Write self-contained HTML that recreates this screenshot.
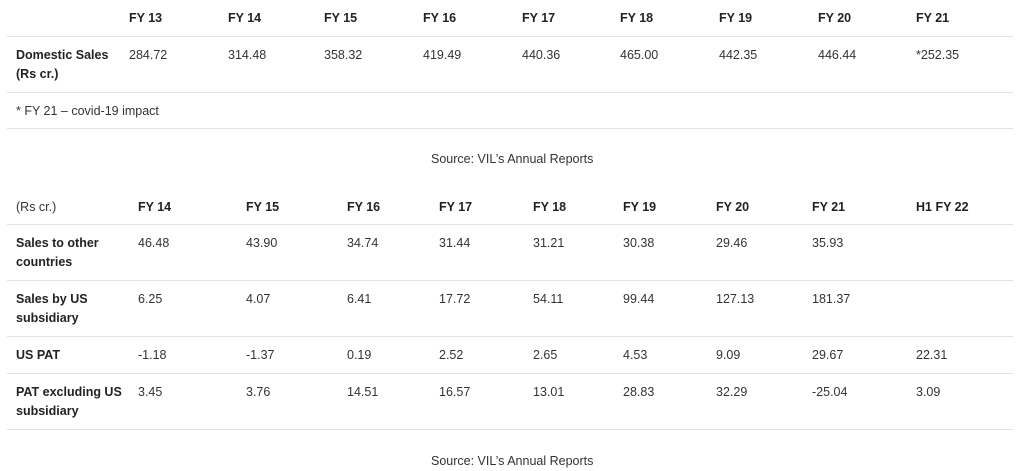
<!DOCTYPE html>
<html><head><meta charset="utf-8"><style>
body{margin:0;width:1024px;height:471px;background:#fff;position:relative;overflow:hidden;font-family:"Liberation Sans",sans-serif;font-size:12.5px;color:#333}
.t{position:absolute;line-height:19px;white-space:nowrap;margin-top:1px}
.b{font-weight:bold;color:#222}
.l{position:absolute;left:7px;width:1006px;height:1px;background:#e3e3e3}
</style></head><body>
<div class="l" style="top:36px"></div>
<div class="l" style="top:92px"></div>
<div class="l" style="top:128px"></div>
<div class="l" style="top:224px"></div>
<div class="l" style="top:280px"></div>
<div class="l" style="top:336px"></div>
<div class="l" style="top:373px"></div>
<div class="l" style="top:429px"></div>

<div class="t b" style="left:129px;top:8px">FY 13</div>
<div class="t b" style="left:228px;top:8px">FY 14</div>
<div class="t b" style="left:324px;top:8px">FY 15</div>
<div class="t b" style="left:423px;top:8px">FY 16</div>
<div class="t b" style="left:522px;top:8px">FY 17</div>
<div class="t b" style="left:620px;top:8px">FY 18</div>
<div class="t b" style="left:719px;top:8px">FY 19</div>
<div class="t b" style="left:818px;top:8px">FY 20</div>
<div class="t b" style="left:916px;top:8px">FY 21</div>

<div class="t b" style="left:16px;top:45px">Domestic Sales<br>(Rs cr.)</div>
<div class="t" style="left:129px;top:45px">284.72</div>
<div class="t" style="left:228px;top:45px">314.48</div>
<div class="t" style="left:324px;top:45px">358.32</div>
<div class="t" style="left:423px;top:45px">419.49</div>
<div class="t" style="left:522px;top:45px">440.36</div>
<div class="t" style="left:620px;top:45px">465.00</div>
<div class="t" style="left:719px;top:45px">442.35</div>
<div class="t" style="left:818px;top:45px">446.44</div>
<div class="t" style="left:916px;top:45px">*252.35</div>

<div class="t" style="left:16px;top:101px">* FY 21 – covid-19 impact</div>
<div class="t" style="left:431px;top:149px">Source: VIL’s Annual Reports</div>

<div class="t" style="left:16px;top:197px">(Rs cr.)</div>
<div class="t b" style="left:138px;top:197px">FY 14</div>
<div class="t b" style="left:246px;top:197px">FY 15</div>
<div class="t b" style="left:347px;top:197px">FY 16</div>
<div class="t b" style="left:439px;top:197px">FY 17</div>
<div class="t b" style="left:533px;top:197px">FY 18</div>
<div class="t b" style="left:623px;top:197px">FY 19</div>
<div class="t b" style="left:716px;top:197px">FY 20</div>
<div class="t b" style="left:812px;top:197px">FY 21</div>
<div class="t b" style="left:916px;top:197px">H1 FY 22</div>

<div class="t b" style="left:16px;top:233px">Sales to other<br>countries</div>
<div class="t" style="left:138px;top:233px">46.48</div>
<div class="t" style="left:246px;top:233px">43.90</div>
<div class="t" style="left:347px;top:233px">34.74</div>
<div class="t" style="left:439px;top:233px">31.44</div>
<div class="t" style="left:533px;top:233px">31.21</div>
<div class="t" style="left:623px;top:233px">30.38</div>
<div class="t" style="left:716px;top:233px">29.46</div>
<div class="t" style="left:812px;top:233px">35.93</div>

<div class="t b" style="left:16px;top:289px">Sales by US<br>subsidiary</div>
<div class="t" style="left:138px;top:289px">6.25</div>
<div class="t" style="left:246px;top:289px">4.07</div>
<div class="t" style="left:347px;top:289px">6.41</div>
<div class="t" style="left:439px;top:289px">17.72</div>
<div class="t" style="left:533px;top:289px">54.11</div>
<div class="t" style="left:623px;top:289px">99.44</div>
<div class="t" style="left:716px;top:289px">127.13</div>
<div class="t" style="left:812px;top:289px">181.37</div>

<div class="t b" style="left:16px;top:345px">US PAT</div>
<div class="t" style="left:138px;top:345px">-1.18</div>
<div class="t" style="left:246px;top:345px">-1.37</div>
<div class="t" style="left:347px;top:345px">0.19</div>
<div class="t" style="left:439px;top:345px">2.52</div>
<div class="t" style="left:533px;top:345px">2.65</div>
<div class="t" style="left:623px;top:345px">4.53</div>
<div class="t" style="left:716px;top:345px">9.09</div>
<div class="t" style="left:812px;top:345px">29.67</div>
<div class="t" style="left:916px;top:345px">22.31</div>

<div class="t b" style="left:16px;top:382px">PAT excluding US<br>subsidiary</div>
<div class="t" style="left:138px;top:382px">3.45</div>
<div class="t" style="left:246px;top:382px">3.76</div>
<div class="t" style="left:347px;top:382px">14.51</div>
<div class="t" style="left:439px;top:382px">16.57</div>
<div class="t" style="left:533px;top:382px">13.01</div>
<div class="t" style="left:623px;top:382px">28.83</div>
<div class="t" style="left:716px;top:382px">32.29</div>
<div class="t" style="left:812px;top:382px">-25.04</div>
<div class="t" style="left:916px;top:382px">3.09</div>

<div class="t" style="left:431px;top:451px">Source: VIL’s Annual Reports</div>
</body></html>
